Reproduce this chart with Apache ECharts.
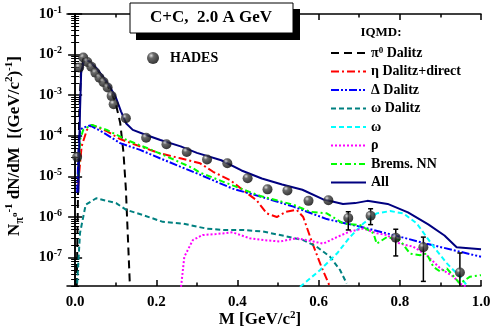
<!DOCTYPE html>
<html>
<head>
<meta charset="utf-8" />
<script src="https://cdn.jsdelivr.net/npm/echarts@6/dist/echarts.min.js"></script>
<style>
  html, body { margin: 0; padding: 0; background: #fff; }
  #chart { width: 491px; height: 335px; }
</style>
</head>
<body>
<div id="chart"></div>
<script>
// x ticks and y decades
var xMajor = [0, 0.2, 0.4, 0.6, 0.8, 1.0];
var xMinor = [0.1, 0.3, 0.5, 0.7, 0.9];
var yMajor = [1e-7, 1e-6, 1e-5, 1e-4, 1e-3, 1e-2, 1e-1];
var yMinor = [];
for (var d = -8; d <= -2; d++) {
  for (var m = 2; m <= 9; m++) yMinor.push(m * Math.pow(10, d));
}

// HADES data: M, value, lower, upper (error only where visible)
var hadesM = [0.005, 0.010, 0.020, 0.030, 0.040, 0.050, 0.060, 0.070, 0.080, 0.090, 0.095, 0.125,
  0.175, 0.225, 0.275, 0.325, 0.375, 0.425, 0.474, 0.523, 0.575, 0.624, 0.673, 0.728, 0.790, 0.858, 0.948];
var hadesY = [3.0e-5, 4.8e-3, 8.5e-3, 6.6e-3, 5.0e-3, 3.6e-3, 2.7e-3, 2.1e-3, 1.55e-3, 9.5e-4, 6.0e-4, 2.7e-4,
  9.0e-5, 6.2e-5, 4.0e-5, 2.6e-5, 2.1e-5, 9.0e-6, 4.8e-6, 4.5e-6, 2.5e-6, 2.6e-6, 9.5e-7, 1.07e-6, 3.1e-7, 1.8e-7, 4.3e-8];
var errM  = [0.673, 0.728, 0.790, 0.858, 0.948];
var errLo = [4.8e-7, 6.5e-7, 1.1e-7, 2.6e-8, 1e-8];
var errHi = [1.35e-6, 1.6e-6, 5.0e-7, 3.2e-7, 1.3e-7];
var errY  = [9.5e-7, 1.07e-6, 3.1e-7, 1.8e-7, 4.3e-8];

// IQMD contributions [M, dN/dM]
var pi0Dalitz = [[0.004,2.0e-8],[0.007,3.2e-6],[0.010,3.2e-4],[0.014,3.2e-3],[0.020,7.9e-3],[0.035,6.8e-3],
  [0.050,4.8e-3],[0.070,2.6e-3],[0.090,1.1e-3],[0.100,6.3e-4],[0.111,2.1e-4],[0.119,4.0e-5],[0.125,5.0e-6],
  [0.130,3.2e-7],[0.135,2.0e-8]];
var etaDalitz = [[0.007,5.0e-6],[0.010,1.2e-5],[0.016,5.5e-5],[0.029,1.4e-4],[0.041,1.86e-4],[0.078,1.3e-4],
  [0.111,8.3e-5],[0.160,5.5e-5],[0.209,3.7e-5],[0.259,2.8e-5],[0.308,2.1e-5],[0.340,1.3e-5],[0.382,8.1e-6],
  [0.423,3.9e-6],[0.447,2.6e-6],[0.472,1.23e-6],[0.497,1.0e-6],[0.520,1.35e-6],[0.546,1.5e-6],[0.562,1.0e-6],
  [0.583,2.5e-7],[0.607,5.9e-8],[0.628,1.9e-8]];
var deltaDalitz = [[0.005,4.0e-6],[0.008,3.2e-5],[0.012,1.4e-4],[0.020,1.6e-4],[0.037,1.8e-4],[0.070,1.2e-4],
  [0.111,6.6e-5],[0.160,4.5e-5],[0.209,2.8e-5],[0.259,1.74e-5],[0.306,1.12e-5],[0.388,5.0e-6],[0.456,3.2e-6],
  [0.538,1.8e-6],[0.620,8.9e-7],[0.702,5.8e-7],[0.784,3.6e-7],[0.866,2.2e-7],[0.948,1.4e-7],[1.000,1.05e-7]];
var omegaDalitz = [[0.005,2.3e-8],[0.012,4.0e-7],[0.026,2.0e-6],[0.052,2.9e-6],[0.101,2.2e-6],[0.126,1.5e-6],
  [0.167,1.12e-6],[0.216,7.6e-7],[0.265,6.9e-7],[0.323,5.2e-7],[0.364,4.8e-7],[0.413,4.8e-7],[0.462,4.4e-7],
  [0.505,3.6e-7],[0.562,2.7e-7],[0.595,1.86e-7],[0.628,1.05e-7],[0.653,4.9e-8],[0.669,2.3e-8]];
var omega = [[0.554,1.9e-8],[0.603,4.9e-8],[0.645,1.26e-7],[0.677,3.2e-7],[0.710,6.9e-7],[0.743,1.23e-6],
  [0.776,1.4e-6],[0.809,1.23e-6],[0.842,6.9e-7],[0.883,1.86e-7],[0.916,7.2e-8],[0.948,3.4e-8],[0.965,2.1e-8]];
var rho = [[0.261,1.9e-8],[0.269,1.05e-7],[0.290,2.7e-7],[0.314,3.6e-7],[0.347,3.8e-7],[0.388,4.2e-7],
  [0.430,3.0e-7],[0.464,2.7e-7],[0.505,2.5e-7],[0.546,3.0e-7],[0.587,2.5e-7],[0.611,2.2e-7],[0.645,3.2e-7],
  [0.677,4.4e-7],[0.710,5.2e-7],[0.743,4.0e-7],[0.768,3.6e-7],[0.800,2.2e-7],[0.833,1.86e-7],[0.866,1.15e-7],
  [0.900,5.4e-8],[0.932,3.4e-8],[0.948,2.3e-8],[0.965,1.9e-8]];
var bremsNN = [[0.009,1.0e-5],[0.012,7.9e-5],[0.020,1.4e-4],[0.041,1.86e-4],[0.078,1.4e-4],[0.127,7.9e-5],
  [0.177,5.0e-5],[0.226,3.1e-5],[0.290,1.6e-5],[0.306,1.26e-5],[0.388,6.0e-6],[0.456,3.3e-6],[0.538,2.0e-6],
  [0.579,1.35e-6],[0.620,1.23e-6],[0.661,6.9e-7],[0.702,6.3e-7],[0.735,4.0e-7],[0.743,2.2e-7],[0.768,3.2e-7],
  [0.800,2.7e-7],[0.825,1.26e-7],[0.850,1.15e-7],[0.866,1.26e-7],[0.883,5.9e-8],[0.900,4.5e-8],[0.916,5.4e-8],
  [0.948,2.3e-8],[0.973,3.4e-8],[1.000,3.7e-8]];
var allSum = [[0.008,4.0e-6],[0.012,4.0e-4],[0.015,3.9e-3],[0.023,7.6e-3],[0.035,6.8e-3],[0.052,4.7e-3],
  [0.068,2.9e-3],[0.085,1.66e-3],[0.101,8.5e-4],[0.113,4.0e-4],[0.126,2.0e-4],[0.142,1.4e-4],[0.175,1.05e-4],
  [0.210,7.9e-5],[0.260,5.5e-5],[0.300,3.8e-5],[0.360,2.5e-5],[0.410,1.4e-5],[0.460,8.9e-6],[0.510,6.3e-6],
  [0.560,4.7e-6],[0.610,2.75e-6],[0.660,2.1e-6],[0.690,2.2e-6],[0.720,2.5e-6],[0.770,2.1e-6],[0.820,1.3e-6],
  [0.870,6.6e-7],[0.910,3.5e-7],[0.940,1.8e-7],[1.000,1.6e-7]];

var FONT = 'Liberation Serif';

var chart = echarts.init(document.getElementById('chart'), null, { renderer: 'canvas' });

function lineSeries(name, data, color, dash, width) {
  return {
    name: name, type: 'line', data: data, xAxisIndex: 0, yAxisIndex: 0,
    symbol: 'none', showSymbol: false, smooth: false, animation: false,
    lineStyle: { color: color, width: width || 2, type: dash },
    itemStyle: { color: color }
  };
}

var hadesData = hadesM.map(function (m, i) { return [m, hadesY[i]]; });
var errData = errM.map(function (m, i) { return [m, errY[i], errLo[i], errHi[i]]; });

function renderErr(params, api) {
  var x = api.value(0);
  var p1 = api.coord([x, api.value(2)]);
  var p2 = api.coord([x, api.value(3)]);
  var st = { stroke: '#000', lineWidth: 1.5 };
  return {
    type: 'group', children: [
      { type: 'line', shape: { x1: p1[0], y1: p1[1], x2: p2[0], y2: p2[1] }, style: st },
      { type: 'line', shape: { x1: p1[0] - 2.5, y1: p1[1], x2: p1[0] + 2.5, y2: p1[1] }, style: st },
      { type: 'line', shape: { x1: p2[0] - 2.5, y1: p2[1], x2: p2[0] + 2.5, y2: p2[1] }, style: st }
    ]
  };
}

var axisLineStyle = { color: '#000', width: 1.5 };
var gridBox = { left: 67, right: 10, top: 14, bottom: 49, outerBoundsMode: 'none' };

function sup(v) {
  return '{b|10}{s|' + Math.round(Math.log10(v)) + '}';
}

var sphere = { type: 'radial', x: 0.35, y: 0.3, r: 0.75,
  colorStops: [{ offset: 0, color: '#d8d8d8' }, { offset: 0.3, color: '#444444' }, { offset: 1, color: '#000000' }] };

chart.setOption({
  animation: false,
  backgroundColor: '#fff',
  grid: [gridBox, Object.assign({}, gridBox)],
  xAxis: [
    { type: 'value', gridIndex: 0, position: 'bottom', min: -0.02, max: 1.0,
      axisLine: { show: true, lineStyle: axisLineStyle },
      axisTick: { show: true, inside: true, length: 6, customValues: xMajor, lineStyle: axisLineStyle },
      axisLabel: { show: true, customValues: xMajor, margin: 9, color: '#000', fontFamily: FONT,
        fontWeight: 'bold', fontSize: 15, formatter: function (v) { return v.toFixed(1); } },
      splitLine: { show: false } },
    { type: 'value', gridIndex: 0, position: 'top', min: -0.02, max: 1.0,
      axisLine: { show: true, lineStyle: axisLineStyle },
      axisTick: { show: true, inside: true, length: 6, customValues: xMajor, lineStyle: axisLineStyle },
      axisLabel: { show: false }, splitLine: { show: false } },
    { type: 'value', gridIndex: 1, position: 'bottom', min: -0.02, max: 1.0,
      axisLine: { show: false },
      axisTick: { show: true, inside: true, length: 3.5, customValues: xMinor, lineStyle: axisLineStyle },
      axisLabel: { show: false }, splitLine: { show: false } },
    { type: 'value', gridIndex: 1, position: 'top', min: -0.02, max: 1.0,
      axisLine: { show: false },
      axisTick: { show: true, inside: true, length: 3.5, customValues: xMinor, lineStyle: axisLineStyle },
      axisLabel: { show: false }, splitLine: { show: false } }
  ],
  yAxis: [
    { type: 'log', logBase: 10, gridIndex: 0, position: 'left', min: 2e-8, max: 0.1,
      axisLine: { show: true, lineStyle: axisLineStyle },
      axisTick: { show: true, inside: true, length: 7, customValues: yMajor, lineStyle: axisLineStyle },
      axisLabel: { show: true, customValues: yMajor, margin: 5, formatter: sup,
        rich: {
          b: { fontFamily: FONT, fontWeight: 'bold', fontSize: 15, color: '#000', lineHeight: 18 },
          s: { fontFamily: FONT, fontWeight: 'bold', fontSize: 10, color: '#000', verticalAlign: 'top' }
        } },
      splitLine: { show: false } },
    { type: 'log', logBase: 10, gridIndex: 0, position: 'right', min: 2e-8, max: 0.1,
      axisLine: { show: true, lineStyle: axisLineStyle },
      axisTick: { show: true, inside: true, length: 7, customValues: yMajor, lineStyle: axisLineStyle },
      axisLabel: { show: false }, splitLine: { show: false } },
    { type: 'log', logBase: 10, gridIndex: 1, position: 'left', min: 2e-8, max: 0.1,
      axisLine: { show: false },
      axisTick: { show: true, inside: true, length: 4, customValues: yMinor, lineStyle: { color: '#000', width: 1 } },
      axisLabel: { show: false }, splitLine: { show: false } },
    { type: 'log', logBase: 10, gridIndex: 1, position: 'right', min: 2e-8, max: 0.1,
      axisLine: { show: false },
      axisTick: { show: true, inside: true, length: 4, customValues: yMinor, lineStyle: { color: '#000', width: 1 } },
      axisLabel: { show: false }, splitLine: { show: false } }
  ],
  legend: [
    { data: ['pi0', 'η Dalitz+direct', 'Δ Dalitz', 'ω Dalitz', 'ω', 'ρ', 'Brems. NN', 'All'],
      orient: 'vertical', left: 330, top: 46, itemWidth: 35, itemHeight: 14, itemGap: 4.5,
      padding: 0, selectedMode: false,
      itemStyle: { color: 'rgba(0,0,0,0)', borderWidth: 0, opacity: 0 },
      formatter: function (name) {
        if (name === 'pi0') return '{t|π}{s|0}{t| Dalitz}';
        return '{t|' + name + '}';
      },
      textStyle: {
        color: '#000', fontFamily: FONT, fontWeight: 'bold', fontSize: 14,
        rich: {
          t: { fontFamily: FONT, fontWeight: 'bold', fontSize: 14, color: '#000', lineHeight: 14 },
          s: { fontFamily: FONT, fontWeight: 'bold', fontSize: 9, color: '#000', verticalAlign: 'top' }
        }
      } },
    { data: ['HADES'], left: 147, top: 51, itemWidth: 12, itemHeight: 12, padding: 0,
      selectedMode: false, icon: 'circle',
      textStyle: { color: '#000', fontFamily: FONT, fontWeight: 'bold', fontSize: 14, padding: [0, 0, 0, 6] } }
  ],
  graphic: [
    { type: 'rect', z: 100, shape: { x: 136, y: 9, width: 164, height: 31 }, style: { fill: '#000' } },
    { type: 'rect', z: 101, shape: { x: 130, y: 3, width: 163, height: 30 },
      style: { fill: '#fff', stroke: '#000', lineWidth: 1 } },
    { type: 'text', z: 102, x: 211, y: 18,
      style: { text: 'C+C,  2.0 A GeV', fontFamily: FONT, fontWeight: 'bold', fontSize: 17,
        fill: '#000', align: 'center', verticalAlign: 'middle' } },
    { type: 'text', z: 102, x: 381, y: 33,
      style: { text: 'IQMD:', fontFamily: FONT, fontWeight: 'bold', fontSize: 13,
        fill: '#000', align: 'center', verticalAlign: 'middle' } },
    { type: 'text', z: 102, x: 260, y: 320,
      style: { text: '{b|M [GeV/c}{s|2}{b|]}', align: 'center', verticalAlign: 'middle',
        rich: {
          b: { fontFamily: FONT, fontWeight: 'bold', fontSize: 17, fill: '#000', lineHeight: 20 },
          s: { fontFamily: FONT, fontWeight: 'bold', fontSize: 11, fill: '#000', verticalAlign: 'top' }
        } } },
    { type: 'text', z: 102, x: 15, y: 146, rotation: Math.PI / 2,
      style: { text: '{b|N}{sub|π}{ss|o}{sup|-1}{b| dN/dM  [(GeV/c}{sup|2}{b|)}{sup|-1}{b|]}',
        align: 'center', verticalAlign: 'middle',
        rich: {
          b: { fontFamily: FONT, fontWeight: 'bold', fontSize: 17, fill: '#000', lineHeight: 22 },
          sub: { fontFamily: FONT, fontWeight: 'bold', fontSize: 12, fill: '#000', verticalAlign: 'bottom' },
          ss: { fontFamily: FONT, fontWeight: 'bold', fontSize: 9, fill: '#000', verticalAlign: 'middle' },
          sup: { fontFamily: FONT, fontWeight: 'bold', fontSize: 11, fill: '#000', verticalAlign: 'top' }
        } } }
  ],
  series: [
    lineSeries('pi0', pi0Dalitz, '#000000', [8, 5], 2),
    lineSeries('η Dalitz+direct', etaDalitz, '#ff0000', [8, 3, 2, 3], 2),
    lineSeries('Δ Dalitz', deltaDalitz, '#0000ff', [8, 2, 2, 2, 2, 2], 2),
    lineSeries('ω Dalitz', omegaDalitz, '#008080', [5, 3], 2),
    lineSeries('ω', omega, '#00ffff', [5, 3], 2),
    lineSeries('ρ', rho, '#ff00ff', [2, 2], 2),
    lineSeries('Brems. NN', bremsNN, '#00ff00', [6, 3, 2, 3], 2),
    lineSeries('All', allSum, '#000080', 'solid', 2),
    { name: 'err', type: 'custom', xAxisIndex: 0, yAxisIndex: 0, data: errData, clip: true,
      renderItem: renderErr, encode: { x: 0, y: 1 }, z: 5 },
    { name: 'HADES', type: 'scatter', xAxisIndex: 0, yAxisIndex: 0, data: hadesData,
      symbol: 'circle', symbolSize: 10, z: 6,
      itemStyle: { color: sphere } }
  ]
});
</script>
</body>
</html>
